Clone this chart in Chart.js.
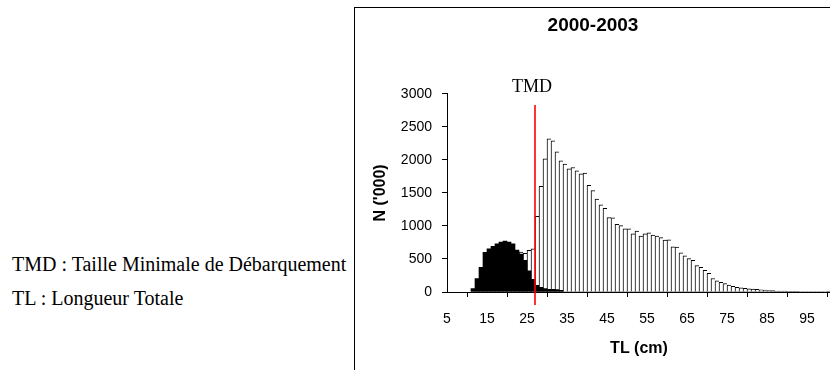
<!DOCTYPE html>
<html>
<head>
<meta charset="utf-8">
<script src="https://cdn.jsdelivr.net/npm/chart.js@4.4.0/dist/chart.umd.min.js"></script>
<style>
  body { margin: 0; width: 830px; height: 370px; overflow: hidden; background: #fff; position: relative; }
  #notes { position: absolute; left: 12px; top: 247px; font-family: "Liberation Serif", "Times New Roman", serif; font-size: 20px; line-height: 34px; color: #000; white-space: nowrap; }
  #box { position: absolute; left: 354px; top: 7px; width: 500px; height: 400px; border-left: 1px solid #000; border-top: 1px solid #000; }
  #wrap { position: absolute; left: 355px; top: 8px; width: 482px; height: 362px; }
</style>
</head>
<body>
<div id="notes">TMD : Taille Minimale de Débarquement<br>TL : Longueur Totale</div>
<div id="box"></div>
<div id="wrap"><canvas id="histo" width="482" height="362"></canvas></div>
<script>
// length classes (cm), one bar per class [c, c+1)
const lengthClasses = [11, 12, 13, 14, 15, 16, 17, 18, 19, 20,
    21, 22, 23, 24, 25, 26, 27, 28, 29, 30,
    31, 32, 33, 34, 35, 36, 37, 38, 39, 40,
    41, 42, 43, 44, 45, 46, 47, 48, 49, 50,
    51, 52, 53, 54, 55, 56, 57, 58, 59, 60,
    61, 62, 63, 64, 65, 66, 67, 68, 69, 70,
    71, 72, 73, 74, 75, 76, 77, 78, 79, 80,
    81, 82, 83, 84, 85, 86, 87, 88, 89, 90,
    91, 92, 93, 94, 95, 96, 97, 98, 99, 100];

// black bars (N '000)
const blackCounts = [50, 205, 375, 600, 655, 690, 730, 755, 770, 755,
    730, 630, 575, 480, 320, 190, 100, 70, 50, 40,
    40, 35, 25, 0, 0, 0, 0, 0, 0, 0,
    0, 0, 0, 0, 0, 0, 0, 0, 0, 0,
    0, 0, 0, 0, 0, 0, 0, 0, 0, 0,
    0, 0, 0, 0, 0, 0, 0, 0, 0, 0,
    0, 0, 0, 0, 0, 0, 0, 0, 0, 0,
    0, 0, 0, 0, 0, 0, 0, 0, 0, 0,
    0, 0, 0, 0, 0, 0, 0, 0, 0, 0];

// white bars (N '000)
const whiteCounts = [null, null, null, null, null, null, null, null, null, null,
    null, 640, 605, 585, 630, 655, 1145, 1600, 2015, 2320,
    2290, 2120, 1985, 1935, 1865, 1885, 1835, 1790, 1800, 1615,
    1535, 1405, 1320, 1265, 1125, 1122, 1025, 1005, 955, 955,
    882, 922, 845, 882, 897, 862, 847, 822, 785, 791,
    682, 680, 592, 546, 505, 480, 400, 372, 328, 282,
    205, 170, 148, 126, 105, 86, 70, 63, 57, 47,
    45, 40, 33, 30, 23, 20, 15, 14, 13, 12,
    11, 10, 0, 0, 0, 0, 0, 0, 0, 15];

const xTickValues = [5, 15, 25, 35, 45, 55, 65, 75, 85, 95];
const tmd = 27;

function toPoints(values) {
    return lengthClasses.map((c, i) => ({ x: c + 0.5, y: values[i] }));
}

const tmdLine = {
    id: 'tmdLine',
    afterDatasetsDraw(chart) {
        const ctx = chart.ctx;
        const x = chart.scales.x.getPixelForValue(tmd);
        const yTop = chart.scales.y.getPixelForValue(2830);
        const yBottom = chart.scales.y.bottom + 13;
        ctx.save();
        ctx.strokeStyle = '#ff0000';
        ctx.lineWidth = 1.6;
        ctx.beginPath();
        ctx.moveTo(x, yTop);
        ctx.lineTo(x, yBottom);
        ctx.stroke();
        ctx.fillStyle = '#000';
        ctx.font = '18px "Liberation Serif"';
        ctx.textAlign = 'center';
        ctx.textBaseline = 'middle';
        ctx.fillText('TMD', x - 3, yTop - 18);
        ctx.restore();
    }
};

Chart.defaults.font.family = '"Liberation Sans", Arial, sans-serif';
Chart.defaults.color = '#000';

new Chart(document.getElementById('histo'), {
    type: 'bar',
    data: {
        datasets: [{
            data: toPoints(blackCounts),
            backgroundColor: '#000',
            borderWidth: 0,
            grouped: false,
            barPercentage: 1,
            categoryPercentage: 1
        }, {
            data: toPoints(whiteCounts),
            backgroundColor: '#fff',
            borderColor: '#000',
            borderWidth: { top: 1, left: 1, right: 0, bottom: 0 },
            borderSkipped: false,
            grouped: false,
            barPercentage: 1,
            categoryPercentage: 1
        }]
    },
    options: {
        responsive: false,
        animation: false,
        layout: { padding: { right: 6 } },
        plugins: {
            legend: { display: false },
            tooltip: { enabled: false },
            title: {
                display: true,
                text: '2000-2003',
                font: { size: 19, weight: 'bold' },
                padding: { top: 6, bottom: 57 }
            }
        },
        scales: {
            x: {
                type: 'linear',
                offset: false,
                min: 5,
                max: 101,
                afterBuildTicks: (scale) => {
                    scale.ticks = xTickValues.map(v => ({ value: v }));
                },
                afterFit: (scale) => { scale.height = 78; },
                grid: { drawOnChartArea: false, tickLength: 5, color: '#000' },
                border: { color: '#000' },
                ticks: { font: { size: 14 }, padding: 14, maxRotation: 0, autoSkip: false },
                title: {
                    display: true,
                    text: 'TL (cm)',
                    font: { size: 16, weight: 'bold' },
                    padding: { top: 0, bottom: 12 }
                }
            },
            y: {
                min: 0,
                max: 3000,
                afterFit: (scale) => { scale.width = 92; },
                grid: { drawOnChartArea: false, tickLength: 5, color: '#000' },
                border: { color: '#000' },
                ticks: { stepSize: 500, font: { size: 14 }, padding: 10, callback: (v) => String(v) },
                title: {
                    display: true,
                    text: "N ('000)",
                    font: { size: 16, weight: 'bold' },
                    padding: { top: 16, bottom: 0 }
                }
            }
        }
    },
    plugins: [tmdLine]
});
</script>
</body>
</html>
